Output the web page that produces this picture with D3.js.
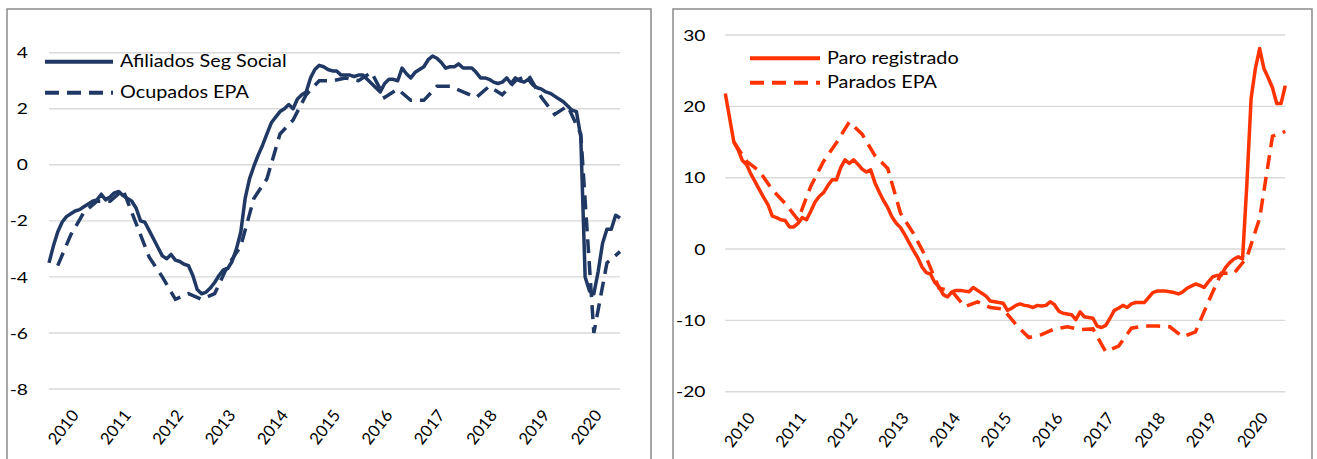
<!DOCTYPE html>
<html>
<head>
<meta charset="utf-8">
<script src="https://cdn.jsdelivr.net/npm/d3@7"></script>
<style>
    html, body { margin: 0; padding: 0; background: #fff; }
    svg { display: block; }
    text { font-family: Lato, 'Noto Sans', sans-serif; fill: #000; }
</style>
</head>
<body>
<svg id="chart" width="1317" height="459"></svg>
<script>
// monthly categories Jan 2010 - Dec 2020, EPA is quarterly (last month of each quarter)
const months = d3.timeMonth.range(new Date(2010, 0, 1), new Date(2021, 0, 1)).map(d3.timeFormat('%Y-%m'));
const quarterMonths = months.filter((m, i) => i % 3 === 2);
const yearTicks = months.filter((m, i) => i % 12 === 0);

// tasas de variacion interanual (%)
const afiliados = [
    -3.5, -2.9, -2.4, -2.05, -1.85, -1.75, -1.65, -1.6, -1.5, -1.4,
    -1.3, -1.25, -1.05, -1.25, -1.15, -1.0, -0.95, -1.1, -1.2, -1.3,
    -1.55, -2.0, -2.05, -2.35, -2.65, -2.95, -3.25, -3.35, -3.2, -3.4,
    -3.45, -3.55, -3.6, -3.95, -4.45, -4.6, -4.55, -4.4, -4.2, -3.95,
    -3.75, -3.7, -3.45, -3.0, -2.4, -1.2, -0.5, -0.05, 0.35, 0.7,
    1.1, 1.5, 1.7, 1.9, 2.0, 2.15, 2.0, 2.35, 2.5, 2.6,
    3.1, 3.4, 3.55, 3.5, 3.4, 3.35,
    3.35, 3.2, 3.2, 3.2, 3.15, 3.2, 3.2, 3.05, 2.9, 2.75,
    2.6, 2.9, 3.05, 3.05, 3.0, 3.45, 3.25, 3.1, 3.3, 3.4,
    3.5, 3.75, 3.88, 3.8, 3.65, 3.45, 3.5, 3.5, 3.6, 3.45,
    3.45, 3.45, 3.3, 3.1, 3.1, 3.05, 2.95, 2.9, 2.95, 3.1,
    2.9, 3.1, 3.0, 2.95, 3.05, 2.85, 2.75, 2.7, 2.6, 2.55,
    2.45, 2.35, 2.25, 2.1, 1.95,
    1.9, 1.0, -4.0, -4.5, -4.6, -3.8, -2.8, -2.3, -2.3, -1.8, -1.9,
];
const ocupadosEPA = [
    -3.6, -2.5, -1.7, -1.3,
    -1.3, -0.9, -2.1, -3.3,
    -4.0, -4.8, -4.6, -4.8,
    -4.6, -3.6, -2.9, -1.2,
    -0.5, 1.1, 1.6, 2.5,
    3.0, 3.0, 3.1, 3.0,
    3.3, 2.4, 2.7, 2.3,
    2.3, 2.8, 2.8, 2.6,
    2.4, 2.8, 2.5, 3.0,
    3.2, 2.4, 1.8, 2.1,
    1.1, -6.0, -3.5, -3.1,
];
const paroRegistrado = [
    21.8, 18.4, 15.0, 13.9, 12.4, 11.8, 10.5, 9.4, 8.3, 7.2,
    6.2, 4.6, 4.4, 4.1, 4.0, 3.1, 3.1, 3.6, 4.4, 4.1,
    5.3, 6.6, 7.4, 7.9, 8.9, 9.7, 9.7, 11.4, 12.5, 12.0,
    12.5, 11.9, 11.2, 10.8, 11.1, 9.3, 8.0, 6.8, 5.8, 4.5,
    3.6, 3.0, 2.0, 0.9, -0.2, -1.2, -2.5, -3.3, -3.5, -4.7,
    -5.3, -6.4, -6.7, -6.0, -5.8, -5.8, -5.9, -6.0, -5.4, -5.8,
    -6.2, -6.6, -7.3, -7.4, -7.5, -7.6,
    -8.6, -8.3, -7.9, -7.7, -7.9, -8.0, -8.2, -7.9, -8.0, -7.9,
    -7.4, -7.8, -8.7, -9.0, -9.1, -9.2, -9.9, -8.8, -9.5, -9.6,
    -9.7, -10.8, -11.0, -10.7, -9.7, -8.6, -8.3, -7.9, -8.2, -7.7,
    -7.5, -7.5, -7.5, -6.8, -6.1, -5.9, -5.9, -5.9, -6.0, -6.1,
    -6.3, -6.0, -5.5, -5.2, -4.9, -5.1, -5.4, -4.6, -3.9, -3.7,
    -3.7, -2.6, -1.9, -1.4, -1.1,
    -1.4, 9.0, 21.1, 25.3, 28.1, 25.3, 24.0, 22.6, 20.4, 20.4, 22.9,
];
const paradosEPA = [
    15.0, 12.3, 10.9, 8.3,
    6.4, 4.1, 8.8, 12.3,
    14.9, 17.8, 16.1, 13.1,
    11.3, 5.0, 2.2, -1.2,
    -5.5, -5.9, -8.1, -7.4,
    -8.2, -8.4, -10.6, -12.4,
    -12.0, -11.2, -10.9, -11.3,
    -11.2, -14.4, -13.6, -11.1,
    -10.8, -10.8, -10.9, -12.3,
    -11.6, -7.4, -3.4, -3.4,
    -1.2, 4.3, 15.8, 16.5,
];

const leftTicks = [-8, -6, -4, -2, 0, 2, 4];
const rightTicks = [-20, -10, 0, 10, 20, 30];
const leftLegend = ['Afiliados Seg Social', 'Ocupados EPA'];
const rightLegend = ['Paro registrado', 'Parados EPA'];

const navy = '#203864';
const red = '#ff3300';
const stretch = 1.2; // the source picture is a bit wider than tall
const dash = '14,8';

const svg = d3.select('#chart');

function drawPanel(cfg) {
    const g = svg.append('g');

    g.append('rect')
        .attr('x', cfg.frame[0])
        .attr('y', cfg.frame[1])
        .attr('width', cfg.frame[2] - cfg.frame[0])
        .attr('height', 480)
        .attr('fill', 'none')
        .attr('stroke', '#8a8a8a')
        .attr('stroke-width', 1.5);

    const x = d3.scalePoint().domain(months).range([cfg.x0, cfg.x1]);
    const y = d3.scaleLinear().domain(d3.extent(cfg.ticks)).range([cfg.yBottom, cfg.yTop]);

    g.selectAll('line.grid').data(cfg.ticks).join('line')
        .attr('class', 'grid')
        .attr('x1', cfg.x0).attr('x2', cfg.x1)
        .attr('y1', (d) => y(d)).attr('y2', (d) => y(d))
        .attr('stroke', '#d9d9d9')
        .attr('stroke-width', 1.4);

    g.selectAll('text.ytick').data(cfg.ticks).join('text')
        .attr('class', 'ytick')
        .attr('transform', (d) => `translate(${cfg.labelX},${y(d)}) scale(${stretch},1)`)
        .attr('text-anchor', 'end')
        .attr('dy', '0.35em')
        .style('font-size', '16px')
        .text((d) => d);

    g.selectAll('text.year').data(yearTicks).join('text')
        .attr('class', 'year')
        .attr('transform', (d) => `translate(${x(d) + 26},${cfg.yBottom + 23}) rotate(-52)`)
        .attr('text-anchor', 'end')
        .attr('dy', '0.35em')
        .style('font-size', '16.5px')
        .text((d) => d.slice(0, 4));

    const line = d3.line().x((d) => x(d.m)).y((d) => y(d.v));

    g.append('path')
        .datum(quarterMonths.map((m, i) => ({ m, v: cfg.quarterly[i] })))
        .attr('d', line)
        .attr('fill', 'none')
        .attr('stroke', cfg.color)
        .attr('stroke-width', 3.5)
        .attr('stroke-dasharray', dash);

    g.append('path')
        .datum(months.map((m, i) => ({ m, v: cfg.monthly[i] })))
        .attr('d', line)
        .attr('fill', 'none')
        .attr('stroke', cfg.color)
        .attr('stroke-width', 3.5)
        .attr('stroke-linejoin', 'round');

    // legend
    const lg = g.selectAll('g.legend').data(cfg.legend).join('g')
        .attr('class', 'legend')
        .attr('transform', (d, i) => `translate(0,${cfg.legendY + i * cfg.legendGap})`);
    lg.append('line')
        .attr('x1', cfg.legendX[0]).attr('x2', cfg.legendX[1])
        .attr('stroke', cfg.color)
        .attr('stroke-width', 4)
        .attr('stroke-dasharray', (d, i) => (i === 1 ? dash : null));
    lg.append('text')
        .attr('transform', `translate(${cfg.legendX[1] + 7},0) scale(${stretch},1)`)
        .attr('dy', '0.35em')
        .style('font-size', '16.5px')
        .text((d) => d);
}

drawPanel({
    frame: [7, 9, 651],
    x0: 49, x1: 620, yTop: 52.7, yBottom: 389,
    ticks: leftTicks, labelX: 28,
    monthly: afiliados, quarterly: ocupadosEPA, color: navy,
    legend: leftLegend, legendX: [45, 113], legendY: 61.7, legendGap: 31,
});

drawPanel({
    frame: [673, 9, 1312],
    x0: 725.3, x1: 1285.3, yTop: 35, yBottom: 391.7,
    ticks: rightTicks, labelX: 705.5,
    monthly: paroRegistrado, quarterly: paradosEPA, color: red,
    legend: rightLegend, legendX: [750, 820], legendY: 58.3, legendGap: 24.4,
});
</script>
</body>
</html>
